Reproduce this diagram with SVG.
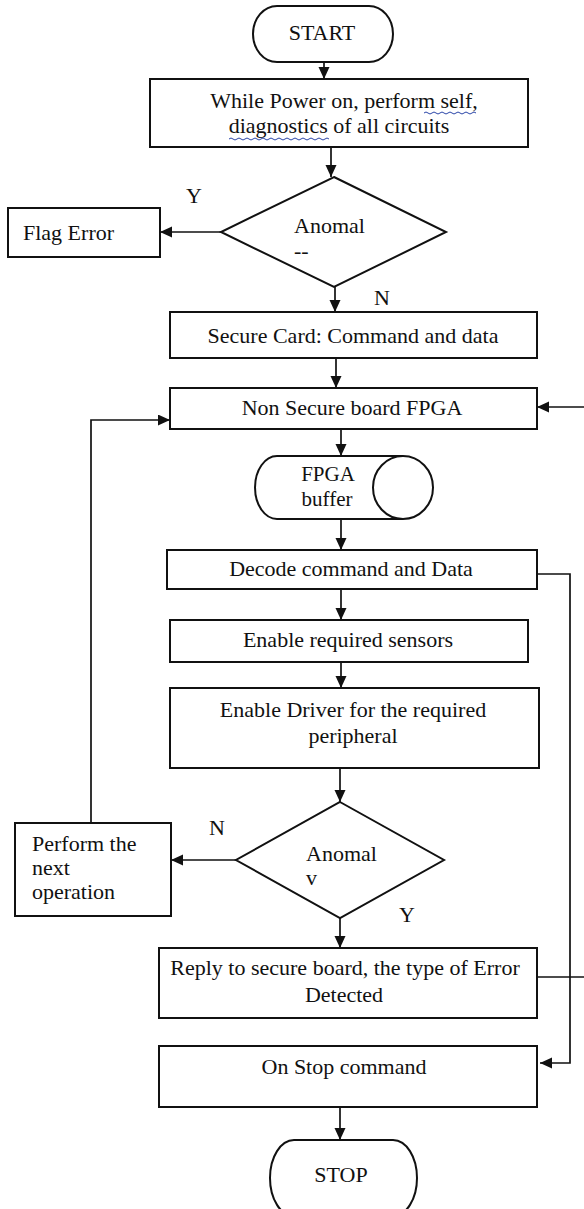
<svg xmlns="http://www.w3.org/2000/svg" width="584" height="1209" viewBox="0 0 584 1209">
  <style>
    .shape { fill: #fff; stroke: #111; stroke-width: 2; }
    .wire { fill: none; stroke: #111; stroke-width: 1.7; }
    .lbl { font-family: "Liberation Serif", "Times New Roman", serif; font-size: 22px; fill: #111; }
    .small { font-size: 21px; }
    .mid { text-anchor: middle; }
    .squiggle { fill: none; stroke: #2a45a8; stroke-width: 1; }
  </style>
  <defs>
    <marker id="arrow" markerUnits="userSpaceOnUse" markerWidth="13" markerHeight="12" refX="12" refY="5.5" orient="auto">
      <path d="M0,0 L12,5.5 L0,11 Z" fill="#111"/>
    </marker>
  </defs>
  <rect width="584" height="1209" fill="#fff"/>

  <!-- connectors -->
  <g id="connectors" class="wire">
    <line x1="324" y1="62" x2="324" y2="79" marker-end="url(#arrow)"/>
    <line x1="331" y1="147" x2="331" y2="177" marker-end="url(#arrow)"/>
    <line x1="221" y1="232" x2="160" y2="232" marker-end="url(#arrow)"/>
    <line x1="335" y1="287" x2="335" y2="312" marker-end="url(#arrow)"/>
    <line x1="336" y1="358" x2="336" y2="388" marker-end="url(#arrow)"/>
    <line x1="590" y1="407" x2="537" y2="407" marker-end="url(#arrow)"/>
    <line x1="341" y1="429" x2="341" y2="456" marker-end="url(#arrow)"/>
    <line x1="341" y1="519" x2="341" y2="550" marker-end="url(#arrow)"/>
    <line x1="341" y1="589" x2="341" y2="620" marker-end="url(#arrow)"/>
    <line x1="341" y1="662" x2="341" y2="688" marker-end="url(#arrow)"/>
    <line x1="340" y1="768" x2="340" y2="802" marker-end="url(#arrow)"/>
    <line x1="236" y1="860" x2="171" y2="860" marker-end="url(#arrow)"/>
    <line x1="340" y1="918" x2="340" y2="948" marker-end="url(#arrow)"/>
    <line x1="340" y1="1107" x2="340" y2="1140" marker-end="url(#arrow)"/>
    <!-- loop back from "Perform the next operation" -->
    <polyline points="91,823 91,420 170,420" marker-end="url(#arrow)"/>
    <!-- Decode side path to the stop command -->
    <polyline points="537,574 570,574 570,1063 540,1063" marker-end="url(#arrow)"/>
    <!-- reply exits to the right edge -->
    <line x1="537" y1="977" x2="590" y2="977"/>
  </g>

  <g id="start">
    <rect class="shape" x="253" y="6" width="140" height="56" rx="24" ry="28"/>
    <text class="lbl mid" x="322" y="40">START</text>
  </g>

  <g id="self-test">
    <rect class="shape" x="150" y="79" width="378" height="68"/>
    <text class="lbl mid" x="344" y="108">While Power on, perform self,</text>
    <text class="lbl mid" x="339" y="133">diagnostics of all circuits</text>
    <path class="squiggle" d="M424,113 q2,-2 4,0 t4,0 t4,0 t4,0 t4,0 t4,0 t4,0 t4,0 t4,0 t4,0 t4,0 t4,0 t4,0"/>
    <path class="squiggle" d="M229,139 q2,-2 4,0 t4,0 t4,0 t4,0 t4,0 t4,0 t4,0 t4,0 t4,0 t4,0 t4,0 t4,0 t4,0 t4,0 t4,0 t4,0 t4,0 t4,0 t4,0 t4,0 t4,0 t4,0 t4,0 t4,0 t4,0"/>
  </g>

  <g id="anomaly-1">
    <polygon class="shape" points="334,177 446,232 334,287 221,232"/>
    <text class="lbl" x="294" y="233">Anomal</text>
    <text class="lbl" x="294" y="258">--</text>
    <text class="lbl" x="186" y="203">Y</text>
    <text class="lbl" x="374" y="305">N</text>
  </g>

  <g id="flag-error">
    <rect class="shape" x="8" y="208" width="152" height="49"/>
    <text class="lbl" x="23" y="240">Flag Error</text>
  </g>

  <g id="secure-card">
    <rect class="shape" x="170" y="312" width="367" height="46"/>
    <text class="lbl mid" x="353" y="343">Secure Card: Command and data</text>
  </g>

  <g id="non-secure">
    <rect class="shape" x="170" y="388" width="367" height="41"/>
    <text class="lbl mid" x="352" y="415">Non Secure board FPGA</text>
  </g>

  <g id="fpga-buffer">
    <path class="shape" d="M403,456 H277 A22,31.5 0 0 0 277,519 H403"/>
    <ellipse class="shape" cx="403" cy="487.5" rx="30" ry="31.5"/>
    <text class="lbl small mid" x="328" y="481">FPGA</text>
    <text class="lbl small mid" x="327" y="506">buffer</text>
  </g>

  <g id="decode">
    <rect class="shape" x="167" y="550" width="370" height="39"/>
    <text class="lbl mid" x="351" y="576">Decode command and Data</text>
  </g>

  <g id="sensors">
    <rect class="shape" x="170" y="620" width="358" height="42"/>
    <text class="lbl mid" x="348" y="647">Enable required sensors</text>
  </g>

  <g id="driver">
    <rect class="shape" x="170" y="688" width="369" height="80"/>
    <text class="lbl mid" x="353" y="717">Enable Driver for the required</text>
    <text class="lbl mid" x="353" y="743">peripheral</text>
  </g>

  <g id="anomaly-2">
    <polygon class="shape" points="340,802 444,860 340,918 236,860"/>
    <text class="lbl" x="306" y="861">Anomal</text>
    <text class="lbl" x="306" y="885">v</text>
    <text class="lbl" x="209" y="835">N</text>
    <text class="lbl" x="399" y="922">Y</text>
  </g>

  <g id="next-operation">
    <rect class="shape" x="15" y="823" width="156" height="93"/>
    <text class="lbl" x="32" y="851">Perform the</text>
    <text class="lbl" x="32" y="875">next</text>
    <text class="lbl" x="32" y="899">operation</text>
  </g>

  <g id="reply">
    <rect class="shape" x="159" y="948" width="378" height="70"/>
    <text class="lbl mid" x="345" y="975">Reply to secure board, the type of Error</text>
    <text class="lbl mid" x="344" y="1002">Detected</text>
  </g>

  <g id="stop-command">
    <rect class="shape" x="159" y="1046" width="378" height="61"/>
    <text class="lbl mid" x="344" y="1074">On Stop command</text>
  </g>

  <g id="stop">
    <rect class="shape" x="270" y="1140" width="147" height="76" rx="24" ry="38"/>
    <text class="lbl mid" x="341" y="1182">STOP</text>
  </g>
</svg>
